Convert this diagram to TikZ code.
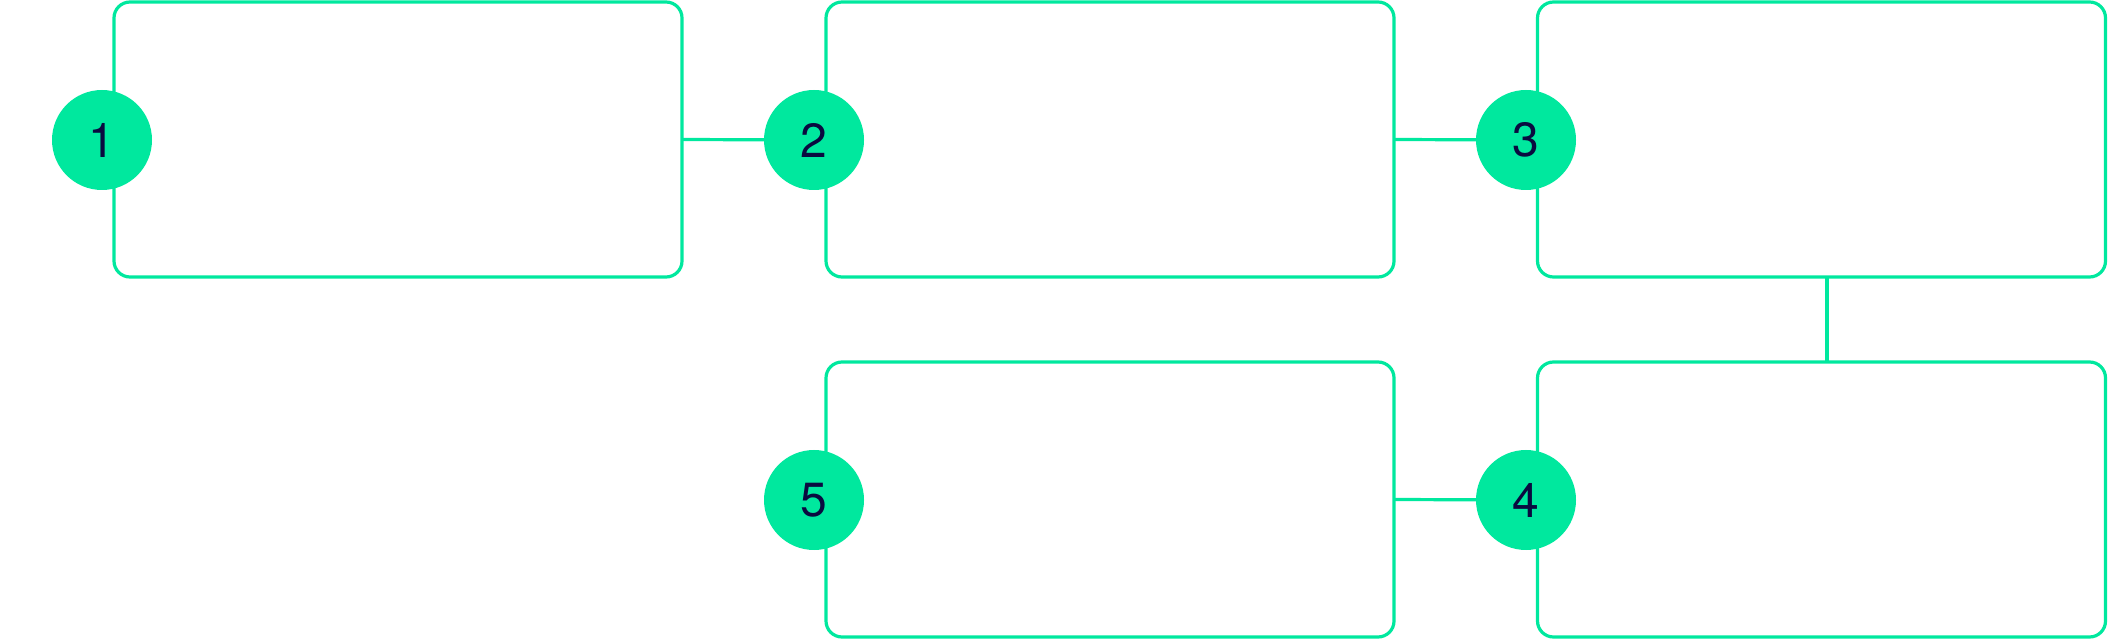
\documentclass[tikz,border=0pt]{standalone}
\usepackage{fontspec}
\setmainfont{TeX Gyre Heros}
\definecolor{mint}{HTML}{00E89E}
\definecolor{navy}{HTML}{0A0A40}
\begin{document}
\begin{tikzpicture}[x=0.5pt,y=-0.5pt,
  card/.style={draw=mint,line width=1.6pt,rounded corners=8pt,minimum width=284pt,minimum height=137.5pt,inner sep=0pt,outer sep=0pt},
  badge/.style={circle,fill=mint,minimum size=50pt,inner sep=0pt,text=navy,font=\fontsize{24}{28}\selectfont},
  link/.style={draw=mint,line width=1.6pt}]
\useasboundingbox (0,0) rectangle (2108,640);
\node[card] (b1) at (398,139.5) {};
\node[card] (b2) at (1110,139.5) {};
\node[card] (b3) at (1821.5,139.5) {};
\node[card] (b4) at (1821.5,499.5) {};
\node[card] (b5) at (1110,499.5) {};
\coordinate (c1p) at (102,140);
\coordinate (c2p) at (814,140);
\coordinate (c3p) at (1526,140);
\coordinate (c4p) at (1526,500);
\coordinate (c5p) at (814,500);
\coordinate (v3) at (1827,277);
\coordinate (v4) at (1827,362);
\draw[link] (b1.east) -- (c2p);
\draw[link] (b2.east) -- (c3p);
\draw[link] (b5.east) -- (c4p);
\draw[link] (v3) -- (v4);
\node[badge] (c1) at (c1p) {1};
\node[badge] (c2) at (c2p) {2};
\node[badge] (c3) at (c3p) {3};
\node[badge] (c4) at (c4p) {4};
\node[badge] (c5) at (c5p) {5};
\end{tikzpicture}
\end{document}
